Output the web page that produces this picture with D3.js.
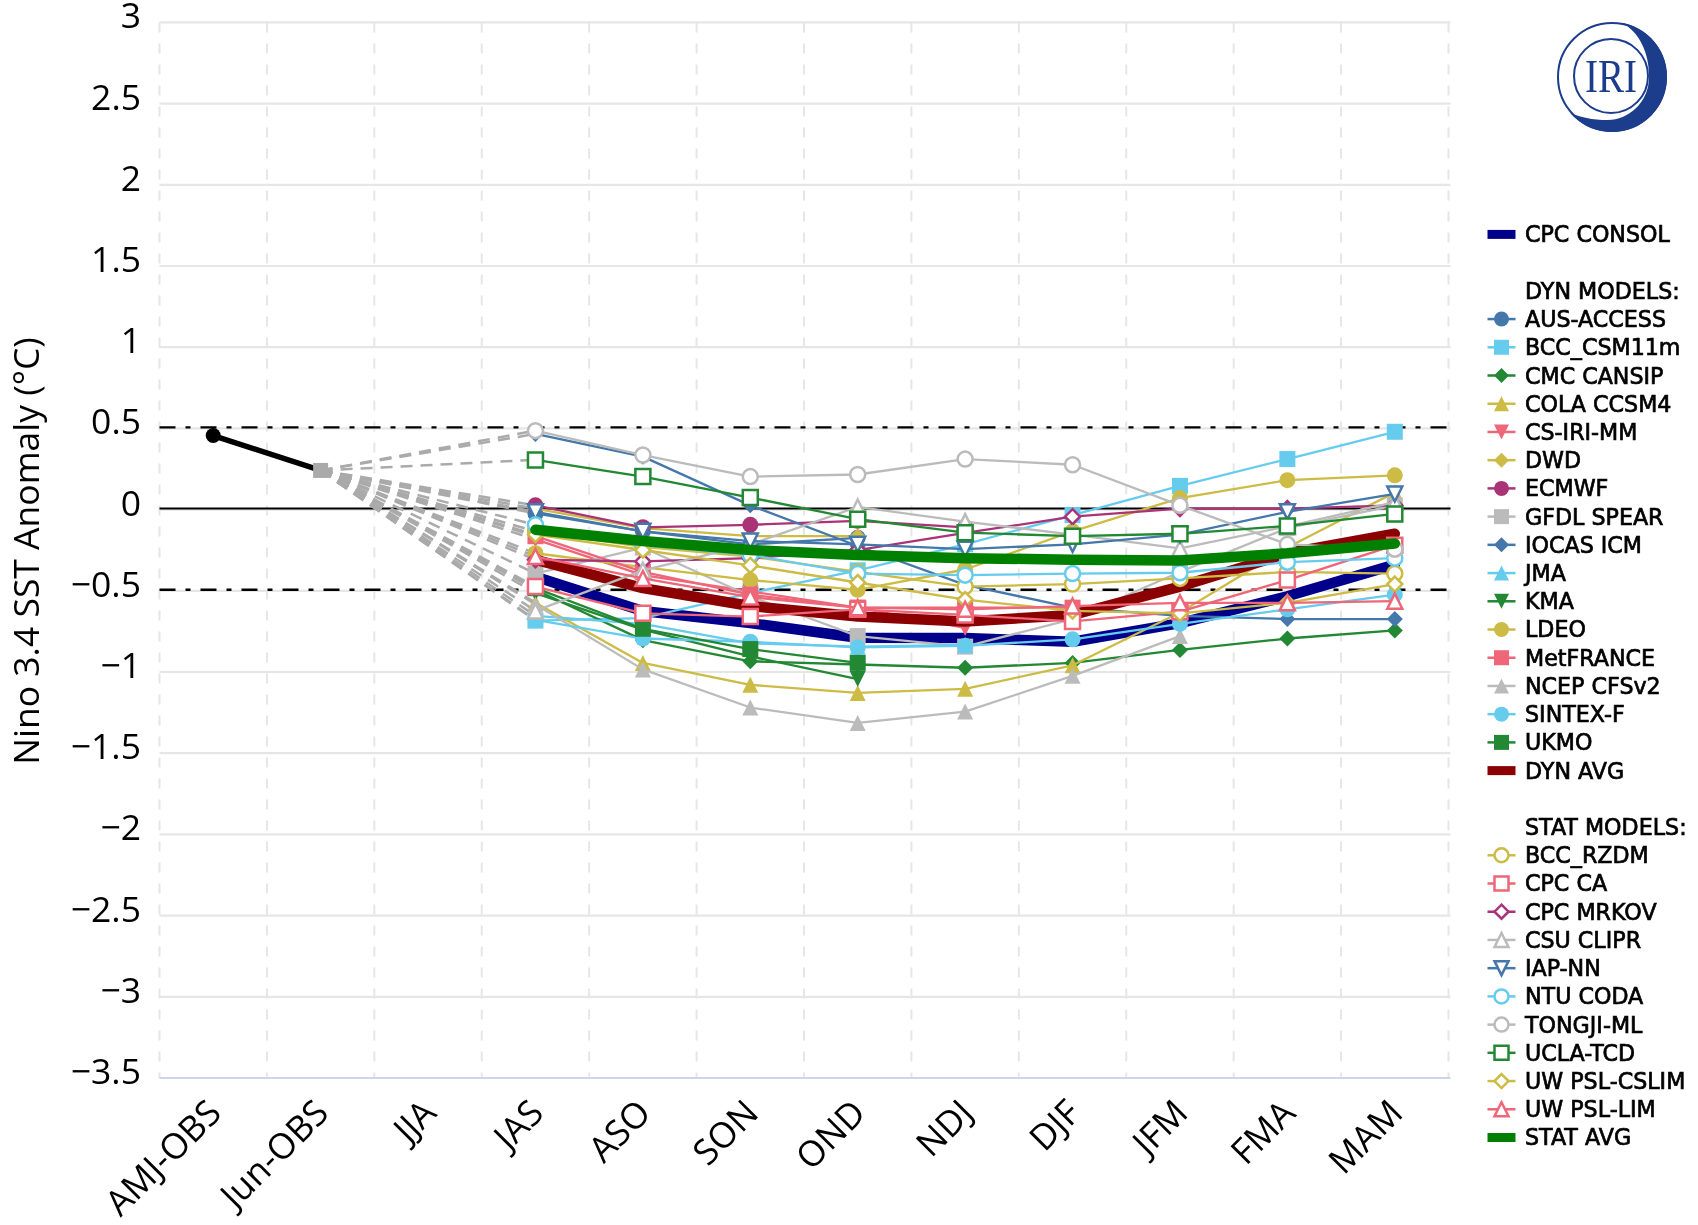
<!DOCTYPE html>
<html>
<head>
<meta charset="utf-8">
<script src="https://cdn.jsdelivr.net/npm/d3@7"></script>
<style>
  html, body { margin: 0; padding: 0; background: #fff; }
  svg { display: block; filter: blur(0.6px); }
  .tick-label { font-family: "Open Sans", sans-serif; font-size: 35.5px; fill: #000; }
  .legend-label { font-family: "DejaVu Sans", sans-serif; font-size: 22.2px; fill: #000; stroke: #000; stroke-width: 0.7px; }
</style>
</head>
<body>
<svg id="chart" width="1698" height="1225"></svg>
<script>
const seasons = ["AMJ-OBS", "Jun-OBS", "JJA", "JAS", "ASO", "SON", "OND", "NDJ", "DJF", "JFM", "FMA", "MAM"];
const forecastSeasons = ["JAS", "ASO", "SON", "OND", "NDJ", "DJF", "JFM", "FMA", "MAM"];
const yTicks = [3, 2.5, 2, 1.5, 1, 0.5, 0, -0.5, -1, -1.5, -2, -2.5, -3, -3.5];
const obsSeasons = ["AMJ-OBS", "Jun-OBS"];
const obsValues = [0.45, 0.235];

// forecast values, one array per model, JAS onwards
const cpcConsol = [-0.42, -0.63, -0.705, -0.795, -0.797, -0.82, -0.705, -0.54, -0.345];
const ausAccess = [-0.03, -0.14, -0.22, -0.18];
const bccCsm = [-0.69, -0.675, -0.52, -0.38, -0.22, -0.04, 0.14, 0.305, 0.473];
const cmcCansip = [-0.5, -0.81, -0.94, -0.96, -0.98, -0.95, -0.87, -0.8, -0.75];
const colaCcsm4 = [-0.58, -0.95, -1.085, -1.135, -1.11, -0.965, -0.64, -0.24, 0.1];
const csIriMm = [-0.19, -0.41, -0.51, -0.61, -0.735];
const dwd = [0, -0.12, -0.17, -0.17];
const ecmwf = [0.02, -0.115, -0.1, -0.075, -0.115];
const gfdlSpear = [-0.4, -0.24, -0.54, -0.785, -0.85, -0.68, -0.39, -0.12, 0.02];
const iocasIcm = [0.46, 0.32, 0.02, -0.23, -0.47, -0.61, -0.66, -0.68, -0.68];
const jma = [-0.66, -0.71, -0.83, -0.85, -0.84];
const kma = [-0.52, -0.745, -0.91, -1.05];
const ldeo = [-0.275, -0.36, -0.44, -0.5, -0.375, -0.14, 0.065, 0.175, 0.205];
const metFrance = [-0.17, -0.39, -0.53, -0.61, -0.61, -0.61];
const ncepCfs = [-0.59, -0.99, -1.225, -1.32, -1.25, -1.03, -0.785];
const sintexF = [-0.685, -0.8, -0.82, -0.855, -0.845, -0.805, -0.71, -0.62, -0.53];
const ukmo = [-0.49, -0.74, -0.865, -0.95];
const dynAvg = [-0.315, -0.49, -0.6, -0.665, -0.695, -0.655, -0.48, -0.275, -0.155];
const bccRzdm = [-0.14, -0.235, -0.295, -0.39, -0.48, -0.465, -0.43, -0.39, -0.4];
const cpcCa = [-0.48, -0.645, -0.665, -0.62, -0.655, -0.695, -0.635, -0.44, -0.225];
const cpcMrkov = [-0.315, -0.325, -0.305, -0.255, -0.15, -0.05, 0, 0, 0.02];
const csuClipr = [-0.63, -0.38, -0.22, 0.01, -0.08, -0.16, -0.245, -0.11, 0.04];
const iapNn = [-0.02, -0.14, -0.2, -0.22, -0.25, -0.22, -0.16, -0.02, 0.09];
const ntuCoda = [-0.1, -0.225, -0.285, -0.4, -0.41, -0.4, -0.395, -0.33, -0.305];
const tongjiMl = [0.48, 0.33, 0.197, 0.21, 0.305, 0.27, 0.02, -0.22, -0.25];
const uclaTcd = [0.3, 0.197, 0.068, -0.065, -0.148, -0.17, -0.155, -0.107, -0.033];
const uwCslim = [-0.16, -0.255, -0.35, -0.455, -0.56, -0.63, -0.645, -0.58, -0.465];
const uwLim = [-0.295, -0.43, -0.545, -0.61, -0.62, -0.6, -0.58, -0.58, -0.57];
const statAvg = [-0.13, -0.2, -0.255, -0.285, -0.305, -0.315, -0.32, -0.275, -0.215];

const blue = "#4477aa", sky = "#66ccee", green = "#228833", yellow = "#ccbb44",
  red = "#ee6677", purple = "#aa3377", grey = "#bbbbbb";

// legend order is also the drawing order
const series = [
  { name: "CPC CONSOL", values: cpcConsol, color: "#00008b", thick: true },
  { header: "DYN MODELS:" },
  { name: "AUS-ACCESS", values: ausAccess, color: blue, shape: "circle" },
  { name: "BCC_CSM11m", values: bccCsm, color: sky, shape: "square" },
  { name: "CMC CANSIP", values: cmcCansip, color: green, shape: "diamond" },
  { name: "COLA CCSM4", values: colaCcsm4, color: yellow, shape: "triangle" },
  { name: "CS-IRI-MM", values: csIriMm, color: red, shape: "triangleDown" },
  { name: "DWD", values: dwd, color: yellow, shape: "diamond" },
  { name: "ECMWF", values: ecmwf, color: purple, shape: "circle" },
  { name: "GFDL SPEAR", values: gfdlSpear, color: grey, shape: "square" },
  { name: "IOCAS ICM", values: iocasIcm, color: blue, shape: "diamond" },
  { name: "JMA", values: jma, color: sky, shape: "triangle" },
  { name: "KMA", values: kma, color: green, shape: "triangleDown" },
  { name: "LDEO", values: ldeo, color: yellow, shape: "circle" },
  { name: "MetFRANCE", values: metFrance, color: red, shape: "square" },
  { name: "NCEP CFSv2", values: ncepCfs, color: grey, shape: "triangle" },
  { name: "SINTEX-F", values: sintexF, color: sky, shape: "circle" },
  { name: "UKMO", values: ukmo, color: green, shape: "square" },
  { name: "DYN AVG", values: dynAvg, color: "#8b0000", thick: true },
  { header: "STAT MODELS:" },
  { name: "BCC_RZDM", values: bccRzdm, color: yellow, shape: "circle", open: true },
  { name: "CPC CA", values: cpcCa, color: red, shape: "square", open: true },
  { name: "CPC MRKOV", values: cpcMrkov, color: purple, shape: "diamond", open: true },
  { name: "CSU CLIPR", values: csuClipr, color: grey, shape: "triangle", open: true },
  { name: "IAP-NN", values: iapNn, color: blue, shape: "triangleDown", open: true },
  { name: "NTU CODA", values: ntuCoda, color: sky, shape: "circle", open: true },
  { name: "TONGJI-ML", values: tongjiMl, color: grey, shape: "circle", open: true },
  { name: "UCLA-TCD", values: uclaTcd, color: green, shape: "square", open: true },
  { name: "UW PSL-CSLIM", values: uwCslim, color: yellow, shape: "diamond", open: true },
  { name: "UW PSL-LIM", values: uwLim, color: red, shape: "triangle", open: true },
  { name: "STAT AVG", values: statAvg, color: "#008000", thick: true },
];
const models = series.filter((s) => s.values);

const svg = d3.select("#chart");

const x = d3.scaleBand().domain(seasons).range([159.5, 1448.5]);
const y = d3.scaleLinear().domain([-3.5, 3]).range([1078, 22.4]);
const xMid = (s) => x(s) + x.bandwidth() / 2;

// marker shapes, size is the square of the marker's full width
const shapes = {
  circle: { draw(c, s) { const r = Math.sqrt(s) / 2; c.moveTo(r, 0); c.arc(0, 0, r, 0, 2 * Math.PI); } },
  square: { draw(c, s) { const r = Math.sqrt(s) / 2; c.rect(-r, -r, 2 * r, 2 * r); } },
  diamond: { draw(c, s) { const r = Math.sqrt(s) / 2; c.moveTo(0, -r); c.lineTo(r, 0); c.lineTo(0, r); c.lineTo(-r, 0); c.closePath(); } },
  triangle: { draw(c, s) { const r = Math.sqrt(s) / 2; c.moveTo(0, -r); c.lineTo(r, r); c.lineTo(-r, r); c.closePath(); } },
  triangleDown: { draw(c, s) { const r = Math.sqrt(s) / 2; c.moveTo(0, r); c.lineTo(r, -r); c.lineTo(-r, -r); c.closePath(); } },
};

function drawMarker(g, s, cx, cy, width) {
  g.append("path")
    .attr("d", d3.symbol().type(shapes[s.shape]).size(width * width)())
    .attr("transform", `translate(${cx},${cy})`)
    .attr("fill", s.open ? "#fff" : s.color)
    .attr("stroke", s.open ? s.color : "none")
    .attr("stroke-width", s.open ? 2.5 : 0);
}

// grid
const grid = svg.append("g");
grid.selectAll(".h").data(yTicks.filter((t) => t !== -3.5)).join("line")
  .attr("x1", x.range()[0]).attr("x2", x.range()[1] + 2)
  .attr("y1", (d) => y(d)).attr("y2", (d) => y(d))
  .attr("stroke", "#e6e6e6").attr("stroke-width", 2.2);
grid.selectAll(".v").data(seasons.concat("end")).join("line")
  .attr("x1", (d, i) => x.range()[0] + i * x.step()).attr("x2", (d, i) => x.range()[0] + i * x.step())
  .attr("y1", y(3)).attr("y2", y(-3.5))
  .attr("stroke", "#e6e6e6").attr("stroke-width", 2).attr("stroke-dasharray", "10,11");
grid.append("line")
  .attr("x1", x.range()[0]).attr("x2", x.range()[1] + 2)
  .attr("y1", y(-3.5)).attr("y2", y(-3.5))
  .attr("stroke", "#ccd6eb").attr("stroke-width", 2.2);

// axis labels
svg.append("g").selectAll("text").data(yTicks).join("text")
  .attr("class", "tick-label")
  .attr("x", 141).attr("y", (d) => y(d) + 6)
  .attr("text-anchor", "end")
  .text((d) => d3.format("")(d).replace("-", "\u2212"));

svg.append("g").selectAll("text").data(seasons).join("text")
  .attr("class", "tick-label")
  .attr("text-anchor", "end")
  .attr("transform", (d) => `translate(${xMid(d) + 10},1115) rotate(-45)`)
  .text((d) => d);

svg.append("text")
  .attr("class", "tick-label")
  .attr("text-anchor", "middle")
  .attr("transform", "translate(39,551) rotate(-90)")
  .text("Nino 3.4 SST Anomaly (\u00b0C)");

const plot = svg.append("g").attr("transform", "translate(0,-1)");

// reference lines
plot.append("line")
  .attr("x1", x.range()[0]).attr("x2", x.range()[1] + 2)
  .attr("y1", y(0)).attr("y2", y(0))
  .attr("stroke", "#000").attr("stroke-width", 2);
plot.selectAll(".ref").data([0.5, -0.5]).join("line")
  .attr("x1", x.range()[0]).attr("x2", x.range()[1] + 2)
  .attr("y1", (d) => y(d)).attr("y2", (d) => y(d))
  .attr("stroke", "#000").attr("stroke-width", 2.4).attr("stroke-dasharray", "16,10,5,10");

// dashed lines from the last observation to each model's first season
const lastObs = obsValues[obsValues.length - 1];
models.filter((s) => !s.thick).forEach((s) => {
  plot.append("line")
    .attr("x1", xMid(obsSeasons[1])).attr("y1", y(lastObs))
    .attr("x2", xMid(forecastSeasons[0])).attr("y2", y(s.values[0]))
    .attr("stroke", "#aaaaaa").attr("stroke-width", 2.5).attr("stroke-dasharray", "12,8");
});

// observations
plot.append("path")
  .attr("d", d3.line().x((d, i) => xMid(obsSeasons[i])).y((d) => y(d))(obsValues))
  .attr("fill", "none").attr("stroke", "#000").attr("stroke-width", 5.5);
drawMarker(plot, { shape: "circle", color: "#000" }, xMid(obsSeasons[0]), y(obsValues[0]), 15);
drawMarker(plot, { shape: "square", color: "#aaaaaa" }, xMid(obsSeasons[1]), y(obsValues[1]), 15);

// models
const line = d3.line().x((d, i) => xMid(forecastSeasons[i])).y((d) => y(d));
models.forEach((s) => {
  const g = plot.append("g");
  g.append("path")
    .attr("d", line(s.values))
    .attr("fill", "none")
    .attr("stroke", s.color)
    .attr("stroke-width", s.thick ? 10.5 : 2.3)
    .attr("stroke-linecap", s.thick ? "round" : "butt")
    .attr("stroke-linejoin", "round");
  if (s.thick) return;
  s.values.forEach((v, i) => drawMarker(g, s, xMid(forecastSeasons[i]), y(v), s.open ? 15 : 16));
});

// legend, a blank row goes before each header
const legendY = d3.scaleLinear().domain([0, 32]).range([234.4, 1137.5]);
const legendRows = [];
let row = 0;
series.forEach((s) => {
  if (s.header) row += 1;
  legendRows.push({ s, row });
  row += 1;
});
const legend = svg.append("g");
legendRows.forEach(({ s, row }) => {
  const ly = legendY(row);
  legend.append("text").attr("class", "legend-label")
    .attr("x", 1525).attr("y", ly).attr("dy", "0.36em")
    .text(s.header || s.name);
  if (s.header) return;
  legend.append("line")
    .attr("x1", 1487.5).attr("x2", 1515.5).attr("y1", ly).attr("y2", ly)
    .attr("stroke", s.color).attr("stroke-width", s.thick ? 9 : 2.5);
  if (!s.thick) drawMarker(legend, s, 1501.5, ly, s.open ? 14 : 15);
});

// IRI logo
const logoBlue = "#1c3c8c";
const logo = svg.append("g").attr("transform", "translate(1612,77)");
logo.append("circle").attr("r", 54).attr("fill", "none").attr("stroke", logoBlue).attr("stroke-width", 2);
logo.append("path")
  .attr("fill", logoBlue)
  .attr("d", "M9.6,-54.2 A55 55 0 1 1 -42.1,35.4 C-32,40 -20,43 -4,43 C16,43 36,26 37,2 C38,-22 28,-45 9.6,-54.2 Z");
logo.append("circle").attr("cx", -1).attr("cy", -1).attr("r", 37).attr("fill", "none").attr("stroke", logoBlue).attr("stroke-width", 2);
logo.append("text")
  .attr("text-anchor", "middle")
  .attr("transform", "translate(-1,15) scale(0.85,1)")
  .attr("font-family", "Liberation Serif").attr("font-size", 46).attr("fill", logoBlue)
  .text("IRI");
</script>
</body>
</html>
